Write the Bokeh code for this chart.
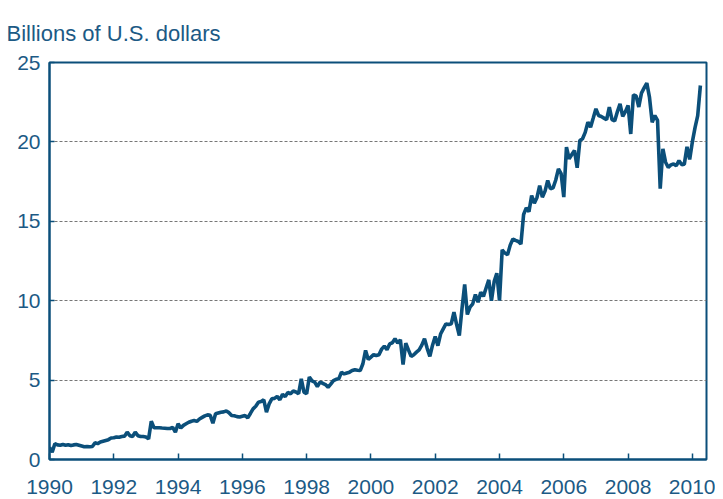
from bokeh.plotting import figure
from bokeh.models import ColumnDataSource, FixedTicker, Range1d
from bokeh.embed import file_html
from bokeh.resources import INLINE

years = list(range(1990, 2011))
v1990 = [0.77, 0.46, 0.99, 0.92, 0.90, 0.95, 0.90, 0.93, 0.88, 0.92, 0.95, 0.90]
v1991 = [0.85, 0.80, 0.82, 0.80, 0.82, 1.05, 1.00, 1.10, 1.15, 1.20, 1.25, 1.35]
v1992 = [1.37, 1.42, 1.40, 1.45, 1.47, 1.72, 1.50, 1.45, 1.72, 1.50, 1.45, 1.45]
v1993 = [1.42, 1.30, 2.41, 2.00, 2.00, 2.00, 1.98, 1.97, 1.95, 1.95, 2.02, 1.72]
v1994 = [2.25, 1.98, 2.15, 2.25, 2.35, 2.41, 2.45, 2.40, 2.55, 2.65, 2.75, 2.81]
v1995 = [2.78, 2.29, 2.88, 2.93, 2.98, 3.00, 3.05, 2.95, 2.77, 2.75, 2.70, 2.67]
v1996 = [2.72, 2.77, 2.62, 2.90, 3.19, 3.35, 3.61, 3.65, 3.76, 2.98, 3.50, 3.82]
v1997 = [3.85, 3.97, 3.76, 4.10, 3.97, 4.22, 4.14, 4.31, 4.25, 4.14, 5.08, 4.24]
v1998 = [4.14, 5.19, 4.95, 4.87, 4.60, 4.87, 4.80, 4.72, 4.55, 4.75, 4.97, 5.05]
v1999 = [5.08, 5.50, 5.39, 5.45, 5.50, 5.60, 5.65, 5.62, 5.60, 6.03, 6.87, 6.30]
v2000 = [6.45, 6.60, 6.55, 6.60, 6.95, 7.14, 6.91, 7.28, 7.35, 7.60, 7.33, 7.54]
v2001 = [5.98, 7.33, 6.90, 6.49, 6.60, 6.76, 6.90, 7.20, 7.60, 7.00, 6.49, 7.20]
v2002 = [7.74, 7.17, 7.90, 8.23, 8.54, 8.50, 8.55, 9.28, 8.50, 7.81, 9.50, 11.02]
v2003 = [9.13, 9.60, 9.80, 10.39, 9.90, 10.54, 10.27, 10.80, 11.31, 10.00, 11.20, 11.73]
v2004 = [10.00, 13.20, 13.00, 12.90, 13.50, 13.88, 13.80, 13.73, 13.57, 15.43, 15.85, 15.60]
v2005 = [16.62, 16.14, 16.50, 17.25, 16.52, 16.90, 17.57, 17.05, 17.11, 17.60, 18.30, 18.00]
v2006 = [16.52, 19.67, 18.94, 19.20, 19.46, 18.37, 20.09, 20.20, 20.60, 21.24, 20.93, 21.50]
v2007 = [22.08, 21.66, 21.60, 21.50, 21.40, 22.19, 21.40, 21.32, 21.90, 22.40, 21.60, 21.90]
v2008 = [22.30, 20.50, 22.96, 22.90, 22.20, 23.07, 23.40, 23.70, 22.80, 21.24, 21.66, 21.35]
v2009 = [17.05, 19.56, 18.72, 18.40, 18.55, 18.61, 18.50, 18.82, 18.57, 18.60, 19.69, 18.90]
v2010 = [20.00, 20.90, 21.66, 23.55]

yearly = [v1990, v1991, v1992, v1993, v1994, v1995, v1996, v1997, v1998, v1999,
          v2000, v2001, v2002, v2003, v2004, v2005, v2006, v2007, v2008, v2009, v2010]

x_ticks = [1990, 1992, 1994, 1996, 1998, 2000, 2002, 2004, 2006, 2008, 2010]
y_ticks = [0, 5, 10, 15, 20, 25]
title_text = "Billions of U.S. dollars"

t, v = [], []
for yr, vals in zip(years, yearly):
    for m, val in enumerate(vals):
        t.append(yr + m / 12.0)
        v.append(val)

src = ColumnDataSource(dict(t=t, v=v))

BLUE = "#0b4f7a"
TXT = "#1c5a85"
FONT = "Liberation Sans"
FS = "21px"

p = figure(width=715, height=497, output_backend="svg", toolbar_location=None,
           x_range=Range1d(1990, 2010.44), y_range=Range1d(0, 25),
           min_border_left=49, min_border_right=9, min_border_top=62, min_border_bottom=38)

p.line("t", "v", source=src, line_color=BLUE, line_width=3.6)

p.title.text = title_text
p.title.align = "left"
p.title.offset = -43
p.title.text_font = FONT
p.title.text_font_size = "22px"
p.title.text_font_style = "normal"
p.title.text_color = TXT
p.title.vertical_align = "top"
p.title.standoff = 30

p.outline_line_color = BLUE
p.outline_line_width = 2

xa = p.xaxis[0]
xa.ticker = FixedTicker(ticks=x_ticks)
xa.axis_line_color = BLUE
xa.axis_line_width = 2
xa.major_tick_in = 6
xa.major_tick_out = 0
xa.major_tick_line_color = BLUE
xa.major_tick_line_width = 1.5
xa.minor_tick_line_color = None
xa.major_label_text_font = FONT
xa.major_label_text_font_size = FS
xa.major_label_text_color = TXT
xa.major_label_standoff = 20

ya = p.yaxis[0]
ya.ticker = FixedTicker(ticks=y_ticks)
ya.axis_line_color = BLUE
ya.axis_line_width = 2
ya.major_tick_in = 5
ya.major_tick_out = 0
ya.major_tick_line_color = BLUE
ya.major_tick_line_width = 1.5
ya.minor_tick_line_color = None
ya.major_label_text_font = FONT
ya.major_label_text_font_size = FS
ya.major_label_text_color = TXT
ya.major_label_standoff = 9

p.xgrid.grid_line_color = None
p.ygrid.ticker = FixedTicker(ticks=[5, 10, 15, 20])
p.ygrid.grid_line_color = "#777777"
p.ygrid.grid_line_dash = "3 2"
p.ygrid.grid_line_width = 1

open("out.html", "w").write(file_html(p, INLINE))
